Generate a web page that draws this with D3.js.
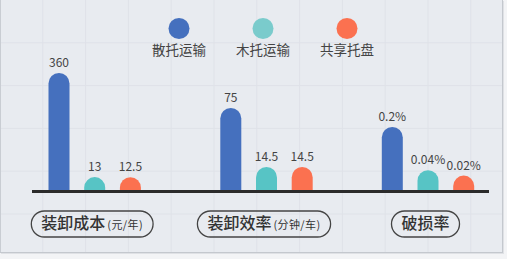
<!DOCTYPE html>
<html><head><meta charset="utf-8">
<script src="https://cdn.jsdelivr.net/npm/d3@7"></script>
<style>
html,body{margin:0;padding:0;background:#f3f4f6;}
svg{display:block;font-family:"Noto Sans CJK SC","Noto Sans",sans-serif;}
</style></head>
<body><svg id="c" width="507" height="259"></svg>
<script>
const categories = ["装卸成本", "装卸效率", "破损率"];
const categoryUnits = ["(元/年)", "(分钟/车)", ""];
const seriesNames = ["散托运输", "木托运输", "共享托盘"];
const values = [
  [360, 13, 12.5],
  [75, 14.5, 14.5],
  [0.2, 0.04, 0.02]
];
const valueLabels = [
  ["360", "13", "12.5"],
  ["75", "14.5", "14.5"],
  ["0.2%", "0.04%", "0.02%"]
];

const colors = ["#4570be", "#57c4c5", "#fb7150"];
const legendColors = ["#4570be", "#7acbcc", "#fb7150"];

const W = 507, H = 259;
const svg = d3.select("#c");
const panelW = 502, panelH = 252;
const baseY = 191;
const r = 10.5;

// background panel
svg.append("rect").attr("x",0).attr("y",0).attr("width",panelW).attr("height",panelH).attr("fill","#e8ebf0");
const g0 = svg.append("g").attr("stroke","#dfe2e8").attr("stroke-width",1);
const step = 42.8;
d3.range(1, Math.floor(panelW/step)+1).forEach(i=>{
  g0.append("line").attr("x1",i*step).attr("x2",i*step).attr("y1",0).attr("y2",panelH);
});
d3.range(1, Math.floor(panelH/step)+1).forEach(i=>{
  g0.append("line").attr("x1",0).attr("x2",panelW).attr("y1",i*step).attr("y2",i*step);
});
// panel edges
svg.append("line").attr("x1",0.5).attr("x2",0.5).attr("y1",0).attr("y2",panelH).attr("stroke","#c9cdd3");
svg.append("line").attr("x1",panelW+0.5).attr("x2",panelW+0.5).attr("y1",0).attr("y2",panelH+1).attr("stroke","#c4c8ce");
svg.append("line").attr("x1",0).attr("x2",panelW+1).attr("y1",panelH+0.5).attr("y2",panelH+0.5).attr("stroke","#c4c8ce");
svg.append("line").attr("x1",panelW+1.5).attr("x2",panelW+1.5).attr("y1",1).attr("y2",panelH+2).attr("stroke","#dfe1e5");
svg.append("line").attr("x1",1).attr("x2",panelW+2).attr("y1",panelH+1.5).attr("y2",panelH+1.5).attr("stroke","#dfe1e5");

// scales
const xGroup = d3.scaleOrdinal().domain(categories).range([94.7, 266.5, 428]);
const xInner = d3.scalePoint().domain(seriesNames).range([-35.7, 35.7]);
const groupHeights = [118, 83, 64];
const yScales = categories.map((c,i)=> d3.scaleLinear().domain([0, d3.max(values[i])]).range([10, groupHeights[i]]));

// clip
svg.append("clipPath").attr("id","clip").append("rect").attr("x",0).attr("y",0).attr("width",W).attr("height",baseY+1);

const bars = svg.append("g").attr("clip-path","url(#clip)");
const labels = svg.append("g").attr("font-size",12).attr("fill","#444").attr("text-anchor","middle");
categories.forEach((c,i)=>{
  seriesNames.forEach((s,j)=>{
    const cx = xGroup(c) + xInner(s);
    const h = yScales[i](values[i][j]);
    const top = baseY - h;
    const x0 = cx - r, x1 = cx + r;
    bars.append("path")
      .attr("d", `M${x0},${baseY+r} V${top+r} A${r},${r} 0 0 1 ${x1},${top+r} V${baseY+r} Z`)
      .attr("fill", colors[j]);
    labels.append("text").attr("x",cx).attr("y",top-6).text(valueLabels[i][j]);
  });
});

// axis baseline
svg.append("line").attr("x1",32).attr("x2",489).attr("y1",baseY+0.5).attr("y2",baseY+0.5)
  .attr("stroke","#2b2b2b").attr("stroke-width",3);

// category pills
categories.forEach((c,i)=>{
  const gc = svg.append("g");
  const t = gc.append("text").attr("y",229).attr("fill","#333");
  t.append("tspan").attr("font-size",16).attr("font-weight",500).text(c);
  if (categoryUnits[i]) t.append("tspan").attr("font-size",11).attr("dx",2).attr("letter-spacing",0.4).text(categoryUnits[i]);
  const bb = t.node().getBBox();
  const cx = xGroup(c) - 2.5;
  t.attr("x", cx - bb.width/2);
  const pw = bb.width + 20;
  gc.insert("rect","text").attr("x",cx - pw/2).attr("y",211).attr("width",pw).attr("height",26)
    .attr("rx",13).attr("fill","none").attr("stroke","#444").attr("stroke-width",1.3);
});

// legend
const lx = d3.scalePoint().domain(seriesNames).range([179, 347]);
const leg = svg.append("g");
seriesNames.forEach((s,j)=>{
  leg.append("circle").attr("cx",lx(s)).attr("cy",28.5).attr("r",10.5).attr("fill",legendColors[j]);
  leg.append("text").attr("x",lx(s)).attr("y",55).attr("text-anchor","middle").attr("font-size",13.5)
    .attr("fill","#444").text(s);
});
</script></body></html>
